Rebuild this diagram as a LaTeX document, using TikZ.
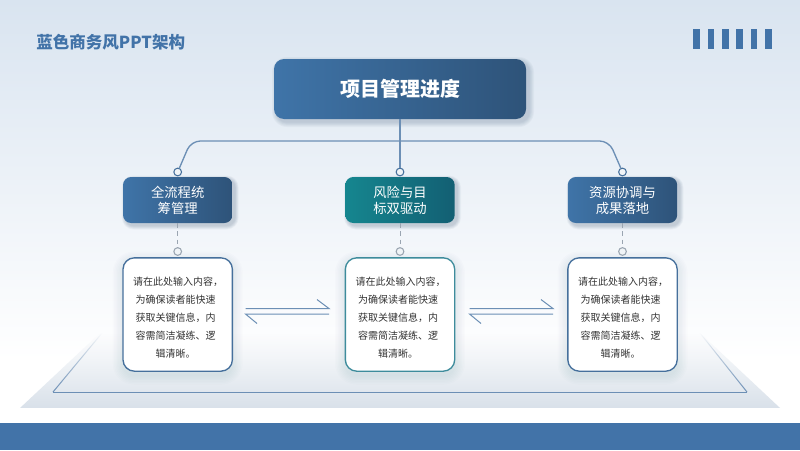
\documentclass[tikz,border=0pt]{standalone}
\usepackage{fontspec}
\setmainfont{Noto Sans CJK SC}
\usetikzlibrary{fadings}
\definecolor{BgTop}{HTML}{D9E4F0}
\definecolor{barblue}{HTML}{4273A8}
\definecolor{linkblue}{HTML}{6C8FB5}
\definecolor{deepline}{HTML}{46709C}
\definecolor{cardteal}{HTML}{3E8C9C}
\definecolor{dotgray}{HTML}{9AA5B1}
\definecolor{basegray}{HTML}{D9E1EA}
\definecolor{HeadL}{HTML}{3F74A8}
\definecolor{HeadR}{HTML}{2E5379}
\definecolor{TealL}{HTML}{15868F}
\definecolor{TealR}{HTML}{135F73}
\definecolor{shadowblue}{HTML}{2E4A6B}
\newcommand{\softshade}[7]{% cx cy w h r grow opacity
  \foreach \k in {1,...,7}{
    \fill[shadowblue,opacity=#7,rounded corners={(#5+#6*\k/7)*0.75pt}]
      ({#1-#3/2-#6*\k/7},{#2-#4/2-#6*\k/7}) rectangle ({#1+#3/2+#6*\k/7},{#2+#4/2+#6*\k/7});
  }}
\tikzset{
  mainbox/.style={rounded corners=7.5pt,minimum width=189pt,minimum height=45pt,inner sep=0pt,text=white,left color=HeadL,right color=HeadR,font=\fontsize{15}{18}\selectfont\bfseries},
  subbox/.style={rounded corners=6pt,minimum width=82pt,minimum height=34.5pt,inner sep=0pt,text=white,align=center,left color=HeadL,right color=HeadR,font=\fontsize{10}{12}\selectfont},
  tealbox/.style={subbox,left color=TealL,right color=TealR},
  card/.style={rounded corners=8.5pt,minimum width=82pt,minimum height=85pt,inner sep=0pt,fill=white,draw=#1,line width=1pt},
  cardtext/.style={inner sep=0pt,align=center,text=black!80,font=\fontsize{7.5}{13.5}\selectfont},
  linkdot/.style={circle,draw=deepline,fill=white!92!deepline,line width=.8pt,minimum size=5.8pt,inner sep=0pt},
  graydot/.style={linkdot,draw=dotgray},
  link/.style={draw=linkblue,line width=1pt,rounded corners=7pt},
  dashlink/.style={draw=dotgray,line width=.7pt,dash pattern=on 3.5pt off 2.6pt},
  harpoon/.style={draw=linkblue,line width=.75pt},
  stripe/.style={fill=barblue,draw=none},
}
\newcommand{\cardbody}{请在此处输入内容，\hspace*{-3.75pt}\\为确保读者能快速\\获取关键信息，内\\容需简洁凝练、逻\\辑清晰。}
\begin{document}
\begin{tikzpicture}[x=0.75pt,y=-0.75pt]
\useasboundingbox (0,0) rectangle (800,450);
% background
\shade[top color=BgTop,bottom color=white] (0,0) rectangle (800,360);
\fill[white] (0,360) rectangle (800,423);
\fill[barblue] (0,423) rectangle (800,450);
% base plane
\fill[basegray,path fading=north] (20,408) -- (100,333) -- (700,333) -- (780,408) -- cycle;
\coordinate (pa) at (102,333);
\coordinate (pb) at (53,392);
\coordinate (pc) at (747,392);
\coordinate (pd) at (700,333);
\draw[linkblue,line width=.75pt,path fading=north] (pa) -- (pb);
\draw[linkblue,line width=.75pt,path fading=north] (pd) -- (pc);
\draw[linkblue,line width=.75pt] (pb) -- (pc);
% title and stripes
\node[anchor=west,text=barblue,inner sep=0pt,font=\fontsize{12.4}{15}\selectfont\bfseries] (title) at (36,42) {蓝色商务风PPT架构};
\foreach \i in {0,...,5}{\fill[stripe] (693.3+14.33*\i,29.3) rectangle ++(6.8,19.3);}
% shadows
\softshade{403}{92}{252}{60}{10}{5}{0.03}
\softshade{180.2}{202.5}{109}{46}{8}{4}{0.035}
\softshade{402.5}{202.5}{109}{46}{8}{4}{0.035}
\softshade{625}{202.5}{109}{46}{8}{4}{0.035}
\softshade{177.7}{318}{110}{113}{11}{10}{0.01}
\softshade{400}{318}{110}{113}{11}{10}{0.01}
\softshade{622.5}{318}{110}{113}{11}{10}{0.01}
% nodes
\node[mainbox] (head) at (400,89) {项目管理进度};
\node[subbox] (s1) at (177.7,200) {全流程统\\筹管理};
\node[tealbox] (s2) at (400,200) {风险与目\\标双驱动};
\node[subbox] (s3) at (622.5,200) {资源协调与\\成果落地};
\node[card=deepline] (c1) at (177.7,314.5) {};
\node[card=cardteal] (c2) at (400,314.5) {};
\node[card=deepline] (c3) at (622.5,314.5) {};
\node[cardtext] (t1) at (175.7,317.3) {\cardbody};
\node[cardtext] (t2) at (398,317.3) {\cardbody};
\node[cardtext] (t3) at (620.5,317.3) {\cardbody};
% top connectors
\coordinate (jl) at (191,141);
\coordinate (jr) at (609,141);
\node[linkdot] (d1) at (177.7,172) {};
\node[linkdot] (d2) at (400,172) {};
\node[linkdot] (d3) at (622.5,172) {};
\draw[link] (d1) -- (jl) -- (jr) -- (d3);
\draw[link] (head.south) -- (d2);
% lower connectors
\node[graydot] (g1) at (177.7,251.5) {};
\node[graydot] (g2) at (400,251.5) {};
\node[graydot] (g3) at (622.5,251.5) {};
\draw[dashlink] (s1.south) -- (g1);
\draw[dashlink] (s2.south) -- (g2);
\draw[dashlink] (s3.south) -- (g3);
% exchange arrows
\foreach \xa/\n in {245.5/a,469.5/b}{
  \coordinate (\n1) at (\xa,308.5);
  \coordinate (\n2) at (\xa+83.5,308.5);
  \coordinate (\n3) at (\xa+71.5,299.5);
  \coordinate (\n4) at (\xa+83.5,314);
  \coordinate (\n5) at (\xa,314);
  \coordinate (\n6) at (\xa+11.5,323.5);
  \draw[harpoon] (\n1) -- (\n2) -- (\n3);
  \draw[harpoon] (\n4) -- (\n5) -- (\n6);
}
\end{tikzpicture}
\end{document}
